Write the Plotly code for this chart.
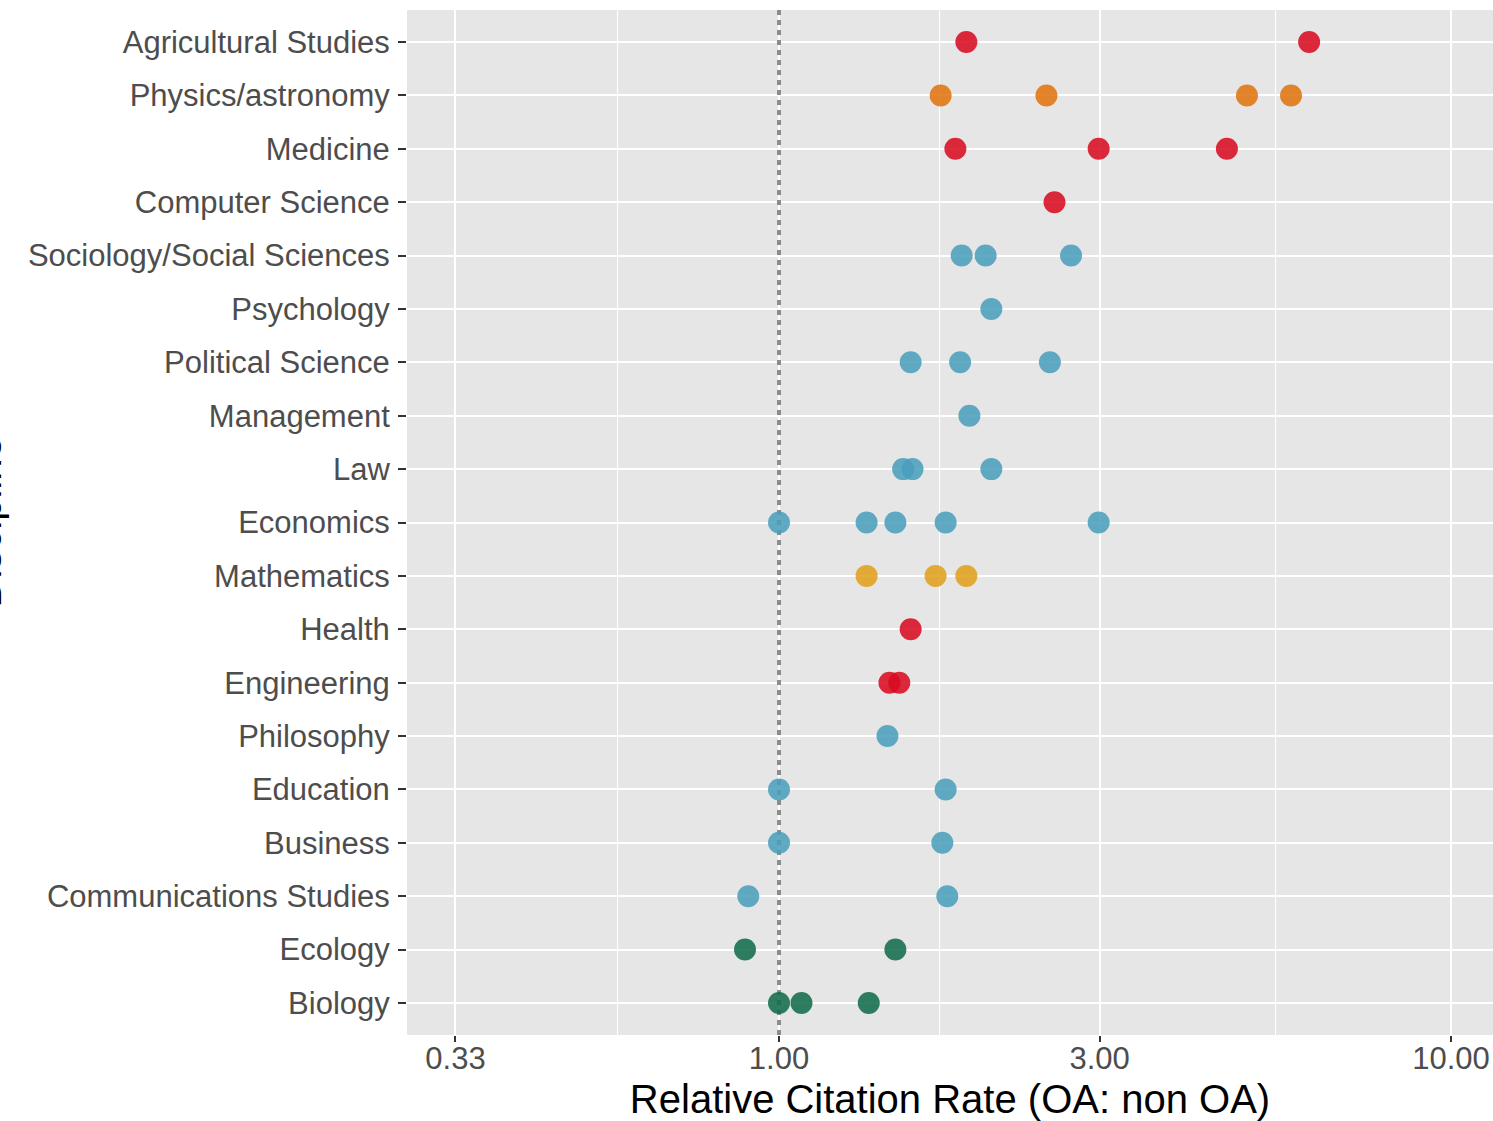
import plotly.graph_objects as go

# Categories, top to bottom
disciplines = [
    "Agricultural Studies", "Physics/astronomy", "Medicine", "Computer Science",
    "Sociology/Social Sciences", "Psychology", "Political Science", "Management",
    "Law", "Economics", "Mathematics", "Health", "Engineering", "Philosophy",
    "Education", "Business", "Communications Studies", "Ecology", "Biology",
]

# Relative citation rates per discipline
agricultural = [1.90, 6.15]
physics = [1.74, 2.50, 4.97, 5.78]
medicine = [1.83, 2.99, 4.64]
computer_science = [2.57]
sociology = [1.87, 2.03, 2.72]
psychology = [2.07]
political_science = [1.57, 1.86, 2.53]
management = [1.92]
law = [1.53, 1.58, 2.07]
economics = [1.00, 1.35, 1.49, 1.77, 2.99]
mathematics = [1.35, 1.71, 1.90]
health = [1.57]
engineering = [1.46, 1.51]
philosophy = [1.45]
education = [1.00, 1.77]
business = [1.00, 1.75]
communications = [0.90, 1.78]
ecology = [0.89, 1.49]
biology = [1.00, 1.08, 1.36]

series = [
    ("Agricultural Studies", agricultural, "red"),
    ("Physics/astronomy", physics, "orange"),
    ("Medicine", medicine, "red"),
    ("Computer Science", computer_science, "red"),
    ("Sociology/Social Sciences", sociology, "blue"),
    ("Psychology", psychology, "blue"),
    ("Political Science", political_science, "blue"),
    ("Management", management, "blue"),
    ("Law", law, "blue"),
    ("Economics", economics, "blue"),
    ("Mathematics", mathematics, "gold"),
    ("Health", health, "red"),
    ("Engineering", engineering, "red"),
    ("Philosophy", philosophy, "blue"),
    ("Education", education, "blue"),
    ("Business", business, "blue"),
    ("Communications Studies", communications, "blue"),
    ("Ecology", ecology, "green"),
    ("Biology", biology, "green"),
]

group_colors = {
    "red": "#D80A20",
    "orange": "#E0740E",
    "gold": "#E0A01C",
    "blue": "#4A9FBC",
    "green": "#116C4C",
}

reference_value = 1.0
x_tick_vals = [0.33, 1.00, 3.00, 10.00]
x_tick_text = ["0.33", "1.00", "3.00", "10.00"]
x_minor_vals = [0.574, 1.732, 5.477]

fig = go.Figure()

# dotted reference line at 1 (on a hidden 0..1 axis so it spans the panel, under the points)
fig.add_trace(go.Scatter(
    x=[reference_value, reference_value], y=[0, 1], mode="lines",
    line=dict(color="#8C8C8C", width=4, dash="5px,5px"),
    xaxis="x", yaxis="y", showlegend=False, hoverinfo="skip",
))

for name, vals, grp in series:
    fig.add_trace(go.Scatter(
        x=vals, y=[name] * len(vals), mode="markers",
        marker=dict(size=22, color=group_colors[grp], opacity=0.87, line=dict(width=0)),
        xaxis="x", yaxis="y2", showlegend=False, hoverinfo="x+y",
    ))

font_family = "Liberation Sans, Arial, sans-serif"

fig.update_layout(
    width=1493, height=1121,
    margin=dict(l=407, r=0, t=10, b=86),
    paper_bgcolor="white",
    plot_bgcolor="#E6E6E6",
    font=dict(family=font_family, color="#4D4D4D"),
    xaxis=dict(
        type="log",
        range=[-0.5536, 1.0625],
        tickvals=x_tick_vals, ticktext=x_tick_text,
        tickfont=dict(size=31, color="#4D4D4D", family=font_family),
        ticks="outside", ticklen=6, tickwidth=1.5, tickcolor="#333333",
        ticklabelstandoff=-10,
        showgrid=True, gridcolor="white", gridwidth=2.2,
        minor=dict(tickvals=x_minor_vals, showgrid=True, gridcolor="white", gridwidth=1.1, ticks=""),
        zeroline=False, showline=False,
        title=dict(text="Relative Citation Rate (OA: non OA)",
                   font=dict(size=40, color="black", family=font_family), standoff=16),
    ),
    yaxis=dict(
        range=[0, 1], visible=False, showgrid=False, zeroline=False, fixedrange=True,
    ),
    yaxis2=dict(
        type="category", overlaying="y", side="left",
        categoryorder="array", categoryarray=list(reversed(disciplines)),
        range=[-0.6, len(disciplines) - 0.4],
        tickfont=dict(size=31, color="#4D4D4D", family=font_family),
        ticks="outside", ticklen=8, tickwidth=1.5, tickcolor="#333333",
        ticklabelstandoff=2,
        showgrid=True, gridcolor="white", gridwidth=2.2,
        zeroline=False, showline=False,
    ),
    annotations=[dict(
        text="Discipline", textangle=-90, xref="paper", yref="paper",
        x=0, y=0.5, xanchor="center", yanchor="middle", xshift=-421,
        showarrow=False, font=dict(size=40, color="black", family=font_family),
    )],
)

fig.write_html(
    "out.html",
    config={"displayModeBar": False},
    post_script="document.body.style.margin='0';document.body.style.overflow='hidden';",
)
